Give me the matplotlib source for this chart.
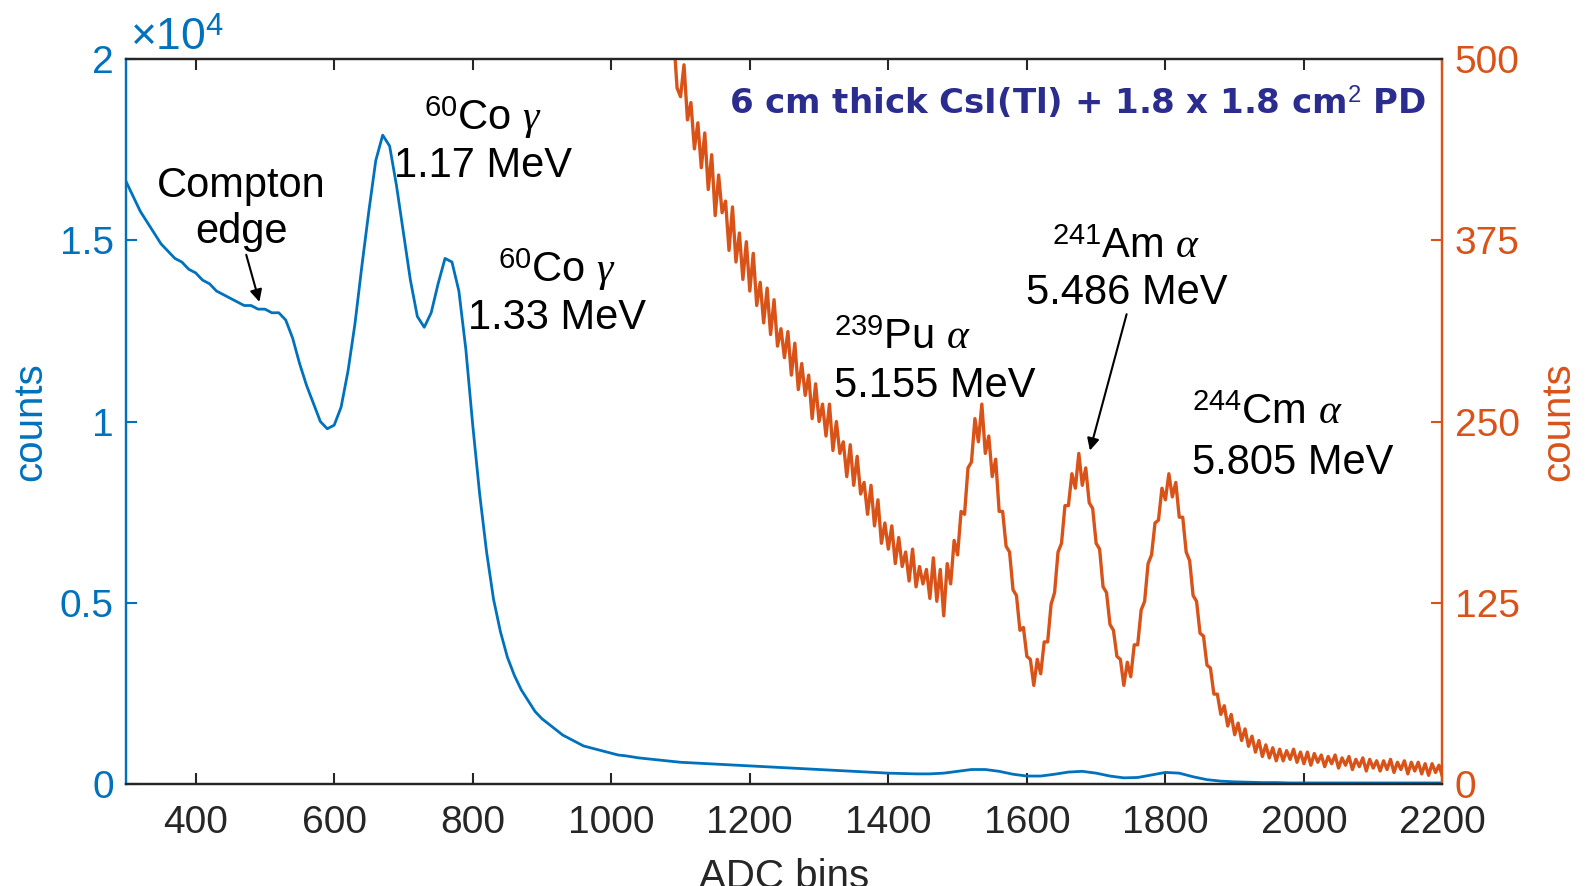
import matplotlib
matplotlib.use("Agg")
import matplotlib.pyplot as plt
import numpy as np
from matplotlib.ticker import FuncFormatter

plt.rcParams["font.family"] = ["Liberation Sans", "DejaVu Sans"]
plt.rcParams["mathtext.fontset"] = "custom"
plt.rcParams["mathtext.rm"] = "Liberation Sans"
plt.rcParams["mathtext.it"] = "Liberation Serif:italic"

BLUE = "#0072BD"
ORANGE = "#D95319"
DARK = "#262626"

# gamma spectrum (60Co), left axis, counts in units of 1e4
blue_adc_fine = np.arange(300, 1100, 10)
blue_counts_fine = [
    1.66, 1.62, 1.58, 1.55, 1.52, 1.49, 1.47, 1.45, 1.44, 1.42,
    1.41, 1.39, 1.38, 1.36, 1.35, 1.34, 1.33, 1.32, 1.32, 1.31,
    1.31, 1.30, 1.30, 1.28, 1.23, 1.16, 1.10, 1.05, 1.00, 0.98,
    0.99, 1.04, 1.14, 1.27, 1.43, 1.58, 1.72, 1.79, 1.76, 1.65,
    1.52, 1.39, 1.29, 1.26, 1.30, 1.38, 1.45, 1.44, 1.36, 1.20,
    0.99, 0.80, 0.64, 0.51, 0.42, 0.35, 0.30, 0.26, 0.23, 0.20,
    0.18, 0.165, 0.15, 0.135, 0.125, 0.115, 0.105, 0.10, 0.095, 0.09,
    0.085, 0.08, 0.078, 0.075, 0.072, 0.07, 0.068, 0.066, 0.064, 0.062,
]
blue_adc_tail = np.arange(1100, 2201, 20)
blue_counts_tail = [
    0.060, 0.058, 0.056, 0.054, 0.052, 0.050, 0.048, 0.046, 0.044, 0.042,
    0.040, 0.038, 0.036, 0.034, 0.032, 0.030, 0.029, 0.028, 0.028, 0.030,
    0.035, 0.040, 0.040, 0.035, 0.027, 0.022, 0.022, 0.027, 0.033, 0.035,
    0.030, 0.022, 0.017, 0.018, 0.025, 0.032, 0.030, 0.020, 0.012, 0.008,
    0.006, 0.005, 0.004, 0.004, 0.003, 0.003, 0.003, 0.003, 0.003, 0.003,
    0.003, 0.003, 0.003, 0.003, 0.003, 0.003,
]

# alpha spectrum, right axis, counts
alpha_adc = np.arange(1080, 2201, 5)
alpha_counts = [
    530, 505, 516, 480, 474, 496, 458, 470, 438, 456, 425, 449, 410, 434, 392, 420, 394, 402, 368, 398,
    360, 380, 348, 374, 340, 366, 330, 346, 318, 342, 310, 334, 302, 314, 294, 312, 282, 304, 272, 290,
    268, 282, 252, 276, 250, 262, 240, 262, 230, 250, 228, 236, 212, 234, 206, 226, 200, 208, 186, 206,
    178, 196, 166, 180, 162, 178, 152, 170, 150, 160, 140, 162, 136, 150, 138, 148, 128, 156, 126, 148,
    116, 152, 138, 168, 158, 188, 186, 218, 222, 252, 236, 262, 228, 240, 212, 224, 188, 188, 164, 160,
    134, 130, 106, 108, 88, 86, 68, 86, 76, 98, 98, 124, 132, 160, 166, 192, 192, 214, 204, 228,
    206, 218, 194, 190, 166, 162, 136, 132, 110, 106, 88, 86, 68, 84, 74, 96, 96, 120, 126, 152,
    158, 180, 182, 204, 196, 214, 198, 208, 184, 184, 160, 154, 130, 126, 104, 102, 82, 80, 62, 62,
    48, 54, 40, 48, 34, 42, 30, 38, 26, 33, 22, 30, 19, 27, 18, 25, 16, 24, 16, 23,
    17, 24, 15, 22, 14, 22, 13, 21, 15, 20, 12, 19, 14, 20, 11, 18, 13, 19, 10, 17,
    12, 18, 9, 17, 11, 16, 9, 16, 10, 17, 8, 15, 10, 16, 7, 15, 9, 15, 7, 14,
    6, 14, 8, 13, 5,
]

x_ticks = [400, 600, 800, 1000, 1200, 1400, 1600, 1800, 2000, 2200]
left_ticks = [0, 0.5, 1, 1.5, 2]
right_ticks = [0, 125, 250, 375, 500]

fig = plt.figure(figsize=(15.86, 8.86), dpi=100)
ax = fig.add_axes([0.0797, 0.1151, 0.8298, 0.8183])
ax2 = ax.twinx()

ax.plot(np.concatenate([blue_adc_fine, blue_adc_tail]),
        np.concatenate([blue_counts_fine, blue_counts_tail]),
        color=BLUE, lw=2.0)
ax2.plot(alpha_adc, alpha_counts, color=ORANGE, lw=2.4)

ax.set_xlim(300, 2200)
ax.set_ylim(0, 2)
ax2.set_ylim(0, 500)
ax.set_xticks(x_ticks)
ax.set_yticks(left_ticks)
ax2.set_yticks(right_ticks)
ax.yaxis.set_major_formatter(FuncFormatter(lambda v, _: f"{v:g}"))

ax.tick_params(axis="x", direction="in", length=8, width=1.5, colors=DARK,
               labelsize=28, pad=15, top=True)
ax.tick_params(axis="y", direction="in", length=8, width=1.5, colors=BLUE,
               labelsize=28, pad=9)
ax2.tick_params(axis="y", direction="in", length=8, width=1.5, colors=ORANGE,
                labelsize=28, pad=9)

for a in (ax, ax2):
    for s in a.spines.values():
        s.set_linewidth(1.6)
    a.spines["top"].set_color(DARK)
    a.spines["bottom"].set_color(DARK)
    a.spines["left"].set_color(BLUE)
    a.spines["right"].set_color(ORANGE)

ax.set_xlabel("ADC bins", fontsize=29, color=DARK, labelpad=12)
ax.set_ylabel("counts", fontsize=29, color=BLUE, labelpad=8)
ax2.set_ylabel("counts", fontsize=29, color=ORANGE, labelpad=14)

ax.text(0.003, 1.0, r"$\times10^{4}$", transform=ax.transAxes, fontsize=32,
        color=BLUE, ha="left", va="bottom")

fs = 30
# gamma annotations (left axis coords)
ax.text(466, 1.618, "Compton", fontsize=fs, color="black", ha="center", va="baseline")
ax.text(466, 1.492, "edge", fontsize=fs, color="black", ha="center", va="baseline")
ax.annotate("", xy=(492, 1.33), xytext=(473, 1.46),
            arrowprops=dict(arrowstyle="-|>", color="black", lw=1.5,
                            mutation_scale=18, shrinkA=0, shrinkB=0))
ax.text(815, 1.805, r"$^{60}$Co $\gamma$", fontsize=fs, color="black", ha="center", va="baseline")
ax.text(815, 1.674, "1.17 MeV", fontsize=fs, color="black", ha="center", va="baseline")
ax.text(921, 1.386, r"$^{60}$Co $\gamma$", fontsize=fs, color="black", ha="center", va="baseline")
ax.text(921, 1.255, "1.33 MeV", fontsize=fs, color="black", ha="center", va="baseline")

# alpha annotations (right axis coords)
ax2.text(1322, 300, r"$^{239}$Pu $\alpha$", fontsize=fs, color="black", ha="left", va="baseline")
ax2.text(1322, 267, "5.155 MeV", fontsize=fs, color="black", ha="left", va="baseline")
ax2.text(1744, 363, r"$^{241}$Am $\alpha$", fontsize=fs, color="black", ha="center", va="baseline")
ax2.text(1744, 331, "5.486 MeV", fontsize=fs, color="black", ha="center", va="baseline")
ax2.annotate("", xy=(1691, 230), xytext=(1744, 324),
             arrowprops=dict(arrowstyle="-|>", color="black", lw=1.5,
                             mutation_scale=18, shrinkA=0, shrinkB=0))
ax2.text(1838, 248, r"$^{244}$Cm $\alpha$", fontsize=fs, color="black", ha="left", va="baseline")
ax2.text(1838, 214, "5.805 MeV", fontsize=fs, color="black", ha="left", va="baseline")

ax2.text(2177, 462, r"6 cm thick CsI(Tl) + 1.8 x 1.8 cm$^{2}$ PD", fontsize=24.5,
         fontweight="bold", color="#2B2D8E", ha="right", va="baseline",
         family=["DejaVu Sans"])

fig.savefig("out.png", dpi=100)
